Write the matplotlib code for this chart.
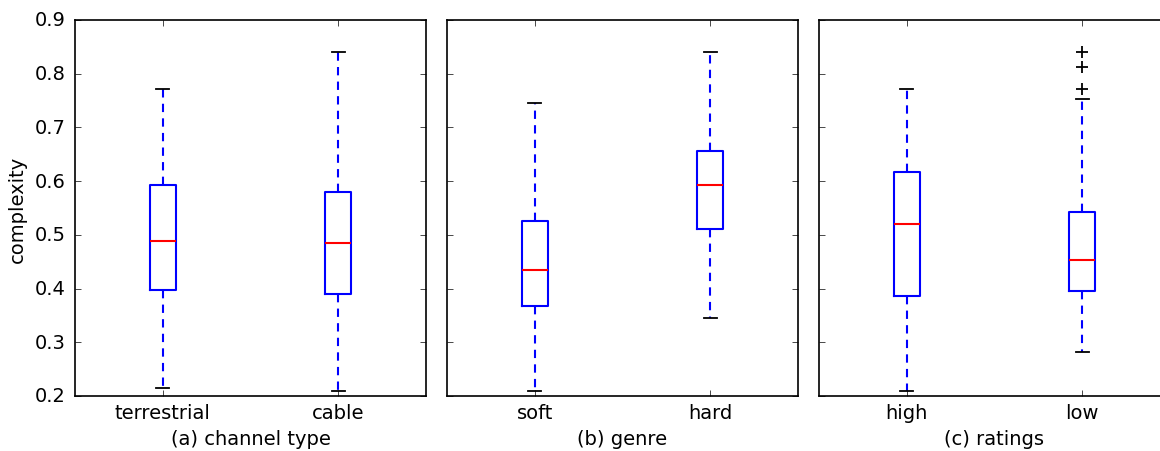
import matplotlib
matplotlib.use('Agg')
import matplotlib.pyplot as plt

plt.style.use('classic')
plt.rcParams['font.size'] = 14

# panel labels and category names
PANELS = ['(a) channel type', '(b) genre', '(c) ratings']
CATS = [['terrestrial', 'cable'], ['soft', 'hard'], ['high', 'low']]

# box stats: [whislo, q1, med, q3, whishi]
terrestrial = [0.214, 0.398, 0.489, 0.593, 0.771]
cable = [0.209, 0.389, 0.485, 0.579, 0.840]
soft = [0.209, 0.368, 0.435, 0.526, 0.746]
hard = [0.346, 0.510, 0.593, 0.657, 0.840]
high = [0.209, 0.387, 0.521, 0.617, 0.771]
low = [0.281, 0.395, 0.453, 0.543, 0.753]
low_fliers = [0.840, 0.812, 0.772]

STATS = [[terrestrial, cable], [soft, hard], [high, low]]
FLIERS = [[[], []], [[], []], [[], low_fliers]]


def make_stats(vals, fl):
    return dict(whislo=vals[0], q1=vals[1], med=vals[2], q3=vals[3],
                whishi=vals[4], fliers=fl)


W, H = 1160, 452
fig = plt.figure(figsize=(W / 100, H / 100), dpi=100, facecolor='white')

LEFTS = [75, 447, 819]
AX_W = 351
TOP = 21
BOTTOM = 397

axes = []
for k in range(3):
    ax = fig.add_axes([LEFTS[k] / W, 1 - BOTTOM / H, AX_W / W, (BOTTOM - TOP) / H],
                      sharey=axes[0] if axes else None)
    bstats = [make_stats(STATS[k][i], FLIERS[k][i]) for i in range(2)]
    ax.bxp(bstats, positions=[1, 2], widths=0.15, showfliers=True,
           boxprops=dict(color='b', linewidth=1.5),
           medianprops=dict(color='r', linewidth=1.5),
           whiskerprops=dict(color='b', linewidth=1.5, linestyle=(0, (6, 4.5))),
           capprops=dict(color='k', linewidth=1.3),
           flierprops=dict(marker='+', markeredgecolor='k', markersize=8,
                           markeredgewidth=1.3))
    ax.set_xlim(0.5, 2.5)
    ax.set_ylim(0.2, 0.9)
    ax.set_xticks([1, 2])
    ax.set_xticklabels(CATS[k])
    ax.set_xlabel(PANELS[k], labelpad=5)
    ax.tick_params(axis='x', pad=5)
    ax.tick_params(axis='y', pad=7)
    for sp in ax.spines.values():
        sp.set_linewidth(1.2)
    if k > 0:
        plt.setp(ax.get_yticklabels(), visible=False)
    axes.append(ax)

axes[0].set_ylabel('complexity')
axes[0].set_yticks([0.2, 0.3, 0.4, 0.5, 0.6, 0.7, 0.8, 0.9])

fig.savefig('out.png', dpi=100, facecolor='white')
